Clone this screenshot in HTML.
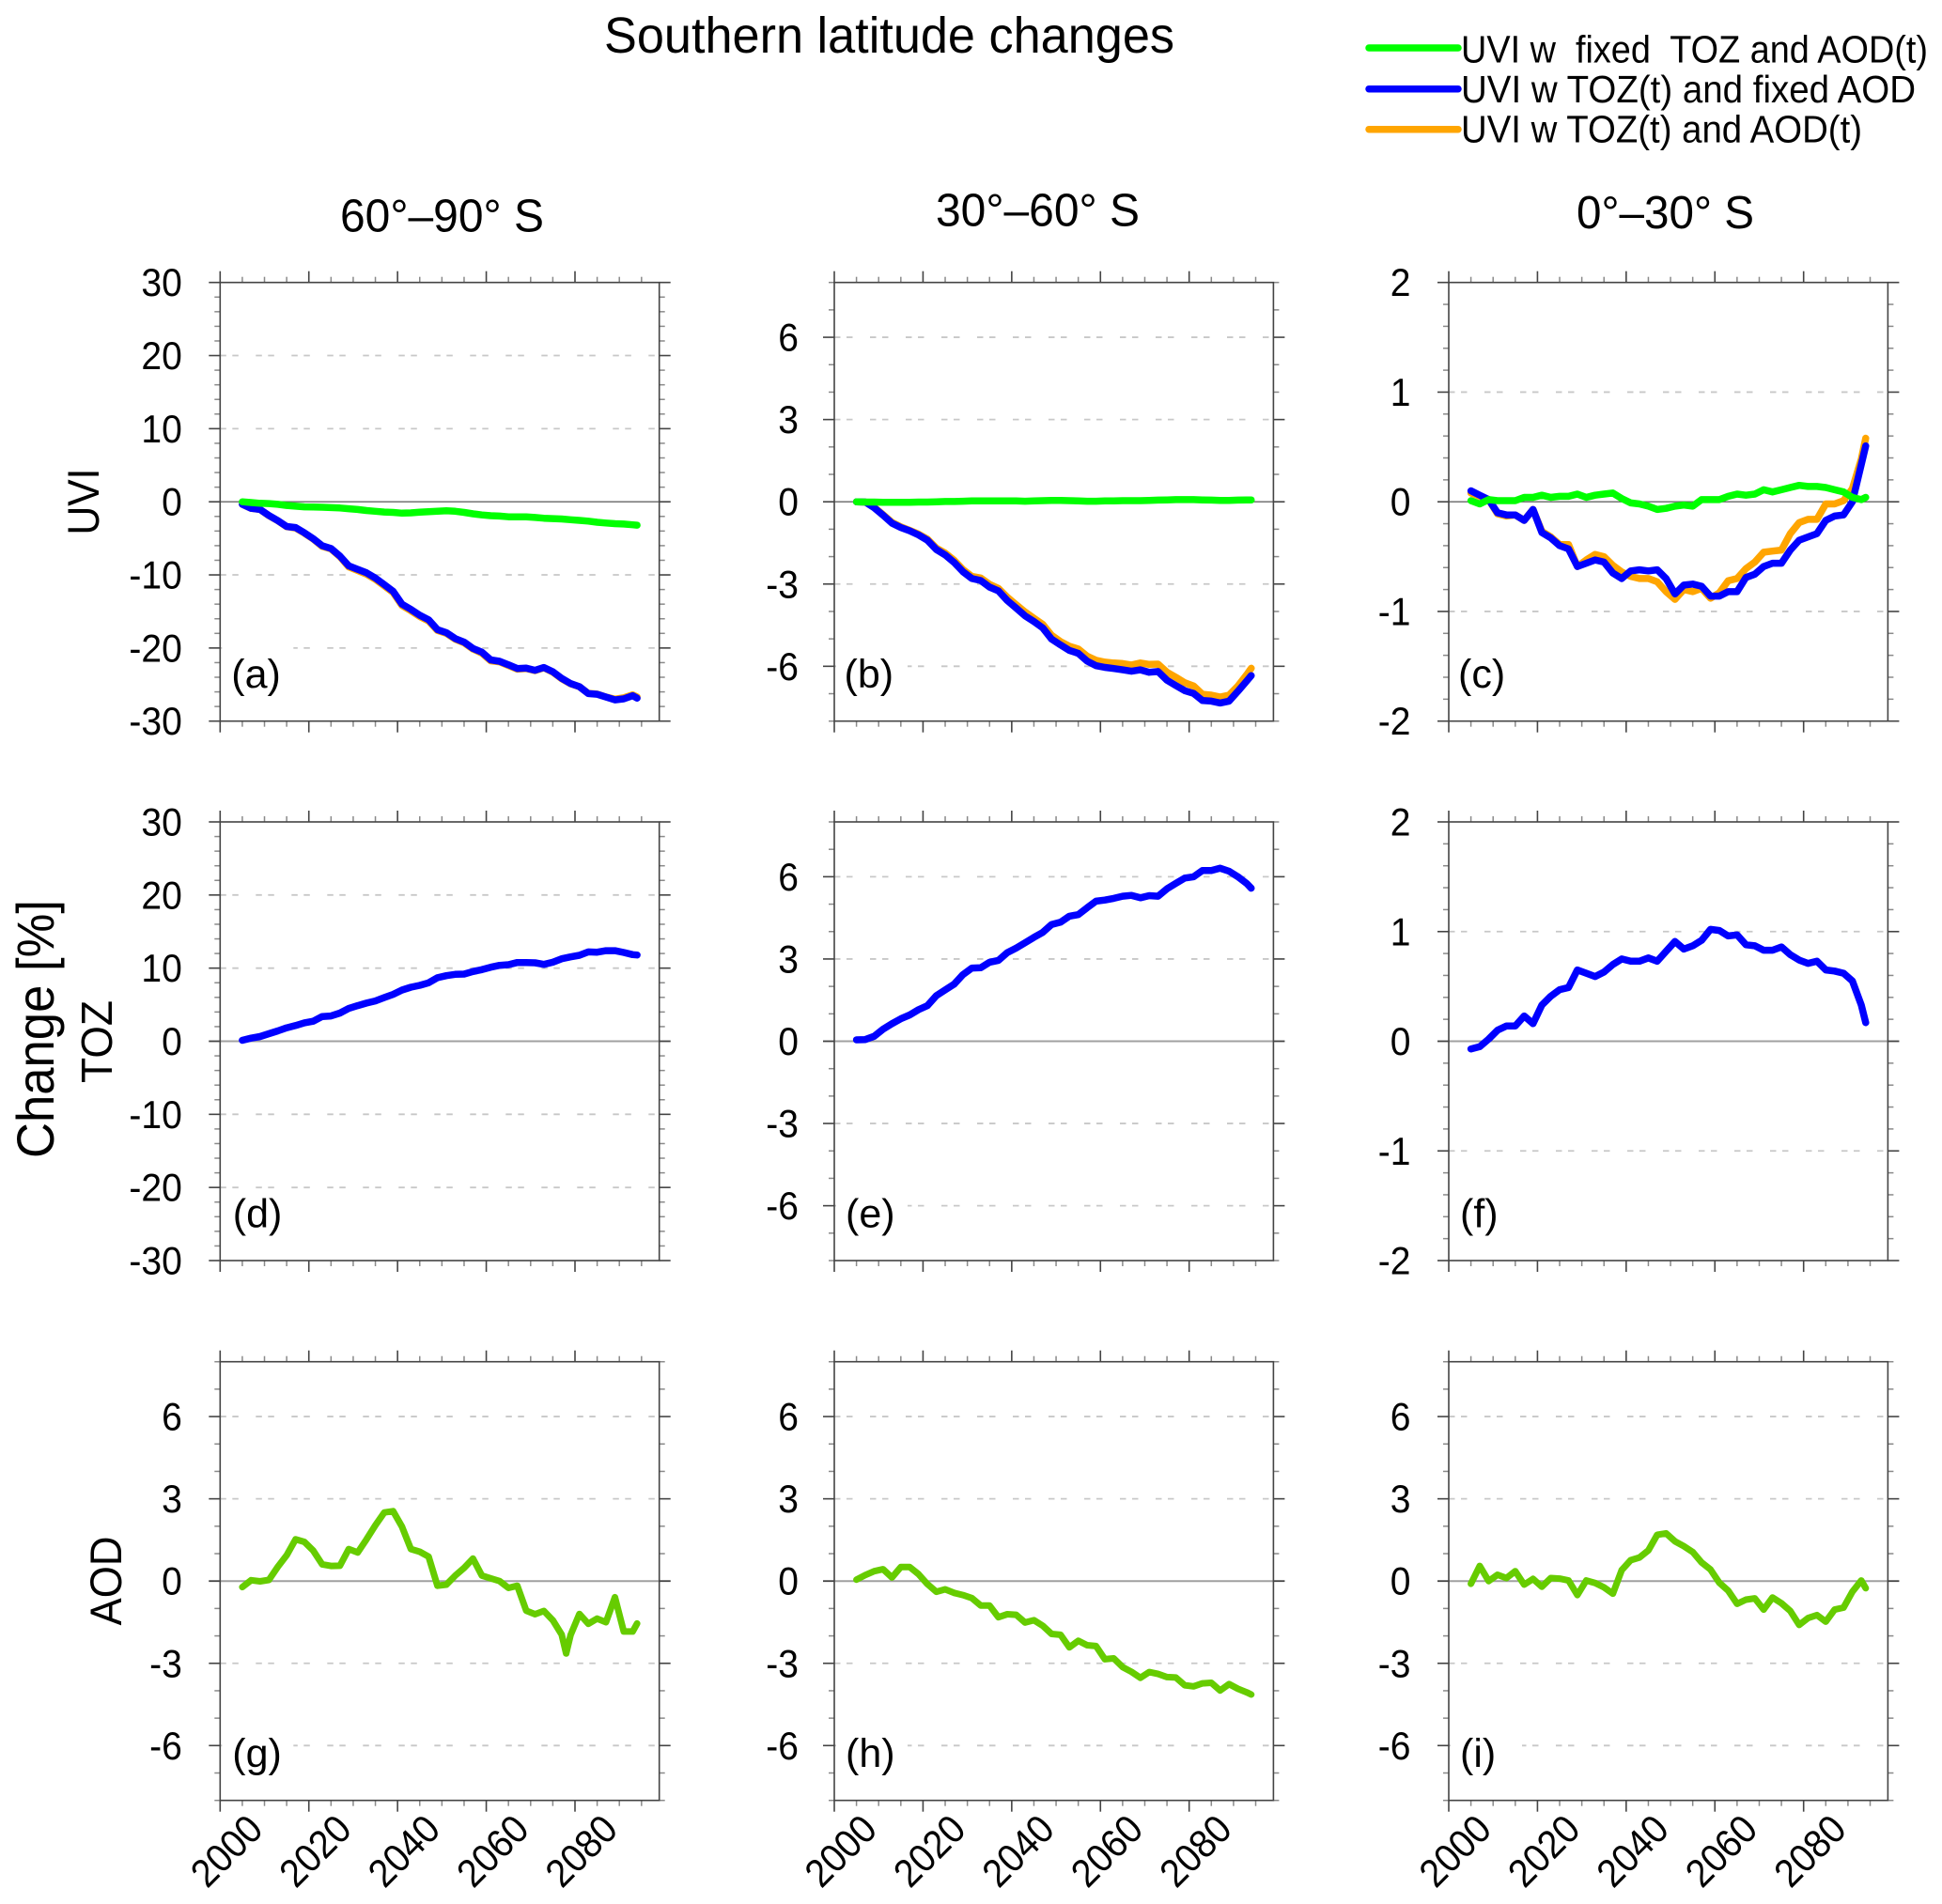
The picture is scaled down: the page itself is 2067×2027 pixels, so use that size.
<!DOCTYPE html>
<html lang="en">
<head>
<meta charset="utf-8">
<title>Southern latitude changes</title>
<style>
html,body{margin:0;padding:0;background:#fff;}
svg{display:block;}
text{font-family:"Liberation Sans",Arial,sans-serif;fill:#000;}
</style>
</head>
<body>
<svg id="chart" xmlns="http://www.w3.org/2000/svg" width="2067" height="2027" viewBox="0 0 2067 2027">
  <rect x="0" y="0" width="2067" height="2027" fill="#fff"/>
  <text x="643" y="56" font-size="54" textLength="607" lengthAdjust="spacingAndGlyphs">Southern latitude changes</text>

  <g>
    <line x1="1457" y1="51" x2="1552" y2="51" stroke="#00ff00" stroke-width="7.5" stroke-linecap="round"/>
    <text x="1555" y="66.7" font-size="41" textLength="497" lengthAdjust="spacingAndGlyphs" style="white-space:pre" xml:space="preserve">UVI w  fixed  TOZ and AOD(t)</text>
    <line x1="1457" y1="94.7" x2="1552" y2="94.7" stroke="#0000ff" stroke-width="7.5" stroke-linecap="round"/>
    <text x="1555" y="109" font-size="41" textLength="484" lengthAdjust="spacingAndGlyphs">UVI w TOZ(t) and fixed AOD</text>
    <line x1="1457" y1="137.7" x2="1552" y2="137.7" stroke="#ffa500" stroke-width="7.5" stroke-linecap="round"/>
    <text x="1555" y="151.7" font-size="41" textLength="427" lengthAdjust="spacingAndGlyphs">UVI w TOZ(t) and AOD(t)</text>
  </g>

  <text x="362" y="246.7" font-size="49" textLength="217" lengthAdjust="spacingAndGlyphs">60°–90° S</text>
  <text x="996" y="240.7" font-size="49" textLength="217" lengthAdjust="spacingAndGlyphs">30°–60° S</text>
  <text x="1678" y="243" font-size="49" textLength="189" lengthAdjust="spacingAndGlyphs">0°–30° S</text>

  <text transform="translate(105 534) rotate(-90)" text-anchor="middle" font-size="47" textLength="71" lengthAdjust="spacingAndGlyphs">UVI</text>
  <text transform="translate(119 1109) rotate(-90)" text-anchor="middle" font-size="46" textLength="88" lengthAdjust="spacingAndGlyphs">TOZ</text>
  <text transform="translate(129 1683) rotate(-90)" text-anchor="middle" font-size="47" textLength="95" lengthAdjust="spacingAndGlyphs">AOD</text>
  <text transform="translate(57 1095.5) rotate(-90)" text-anchor="middle" font-size="56" textLength="275" lengthAdjust="spacingAndGlyphs">Change [%]</text>
</svg>

<script>
// ---------- shared categories ----------
const years = [2005,2007,2009,2011,2013,2015,2017,2019,2021,2023,
  2025,2027,2029,2031,2033,2035,2037,2039,2041,2043,
  2045,2047,2049,2051,2053,2055,2057,2059,2061,2063,
  2065,2067,2069,2071,2073,2075,2077,2079,2081,2083,
  2085,2087,2089,2091,2093,2094];
const yearsPanelG = [2005,2007,2009,2011,2013,2015,2017,2019,2021,2023,
  2025,2027,2029,2031,2033,2035,2037,2039,2041,2043,
  2045,2047,2049,2051,2053,2055,2057,2059,2061,2063,
  2065,2067,2069,2071,2073,2075,2077,2078,2079,2081,2083,
  2085,2087,2089,2091,2093,2094];

// ---------- tick labels ----------
const xMajorYears = [2000,2020,2040,2060,2080];
const xMinorYears = [2005,2010,2015,2025,2030,2035,2045,2050,2055,2065,2070,2075,2085,2090,2095];
const yTicksWide = [-30,-20,-10,0,10,20,30];
const yTicksMid = [-6,-3,0,3,6];
const yTicksNarrow = [-2,-1,0,1,2];

// ---------- panel (a) UVI 60-90S ----------
const uviBlueA = [-.33,-.90,-1.05,-1.86,-2.57,-3.38,-3.52,-4.24,-5.05,-6.0,
  -6.38,-7.43,-8.76,-9.24,-9.71,-10.43,-11.33,-12.24,-14.0,-14.71,
  -15.52,-16.14,-17.48,-17.90,-18.71,-19.19,-20.05,-20.57,-21.62,-21.81,
  -22.29,-22.81,-22.76,-23.05,-22.67,-23.24,-24.14,-24.86,-25.29,-26.24,
  -26.33,-26.71,-27.10,-26.95,-26.52,-26.86];
const uviOrangeA = [-.33,-.90,-1.05,-1.9,-2.6,-3.4,-3.6,-4.3,-5.1,-6.1,
  -6.45,-7.5,-8.9,-9.4,-9.9,-10.6,-11.5,-12.4,-14.2,-14.9,
  -15.7,-16.3,-17.6,-18.0,-18.8,-19.3,-20.15,-20.7,-21.75,-21.9,
  -22.4,-22.9,-22.8,-23.1,-22.7,-23.3,-24.2,-24.9,-25.3,-26.2,
  -26.3,-26.7,-27.0,-26.8,-26.4,-26.7];
const uviGreenA = [0,-.1,-.2,-.25,-.35,-.5,-.6,-.7,-.72,-.75,
  -.8,-.85,-.95,-1.05,-1.2,-1.3,-1.4,-1.45,-1.55,-1.52,
  -1.42,-1.35,-1.28,-1.22,-1.3,-1.45,-1.65,-1.8,-1.9,-1.95,
  -2.05,-2.05,-2.05,-2.15,-2.25,-2.3,-2.35,-2.45,-2.55,-2.65,
  -2.8,-2.9,-3.0,-3.05,-3.15,-3.2];

// ---------- panel (b) UVI 30-60S ----------
const uviBlueB = [0,-.01,-.22,-.49,-.78,-.94,-1.06,-1.21,-1.40,-1.74,
  -1.94,-2.21,-2.55,-2.80,-2.87,-3.11,-3.25,-3.60,-3.88,-4.16,
  -4.37,-4.60,-5.01,-5.22,-5.42,-5.53,-5.81,-5.98,-6.04,-6.08,
  -6.13,-6.18,-6.13,-6.22,-6.19,-6.51,-6.70,-6.89,-6.99,-7.25,
  -7.27,-7.34,-7.27,-6.91,-6.53,-6.34];
const uviOrangeB = [0,-.01,-.20,-.47,-.75,-.91,-1.04,-1.18,-1.36,-1.69,
  -1.87,-2.13,-2.47,-2.72,-2.78,-3.01,-3.16,-3.48,-3.75,-4.02,
  -4.25,-4.47,-4.87,-5.10,-5.27,-5.37,-5.63,-5.78,-5.85,-5.88,
  -5.90,-5.95,-5.88,-5.93,-5.92,-6.22,-6.40,-6.60,-6.72,-7.02,
  -7.05,-7.12,-7.05,-6.72,-6.30,-6.07];
const uviGreenB = [0,-.01,-.01,-.02,-.02,-.02,-.02,-.01,-.01,0,
  .01,.01,.02,.03,.03,.03,.03,.03,.03,.02,
  .03,.04,.05,.05,.04,.03,.02,.02,.03,.03,
  .04,.04,.04,.05,.06,.07,.08,.08,.08,.07,
  .06,.05,.05,.06,.07,.07];

// ---------- panel (c) UVI 0-30S ----------
const uviBlueC = [.10,.06,.02,-.10,-.12,-.12,-.17,-.07,-.28,-.33,
  -.40,-.43,-.59,-.56,-.53,-.55,-.65,-.70,-.63,-.62,
  -.63,-.62,-.70,-.84,-.76,-.75,-.77,-.86,-.86,-.82,
  -.82,-.69,-.66,-.59,-.56,-.56,-.44,-.35,-.32,-.29,
  -.17,-.13,-.12,0,.34,.51];
const uviOrangeC = [.08,.05,.02,-.11,-.13,-.12,-.17,-.07,-.27,-.32,
  -.39,-.39,-.59,-.53,-.48,-.50,-.58,-.64,-.68,-.70,
  -.70,-.73,-.82,-.89,-.80,-.82,-.79,-.88,-.83,-.72,
  -.70,-.61,-.55,-.46,-.45,-.44,-.29,-.19,-.16,-.16,
  -.02,-.02,.01,.12,.39,.58];
const uviGreenC = [.01,-.02,.02,.01,.01,.01,.04,.04,.06,.04,
  .05,.05,.07,.04,.06,.07,.08,.03,-.01,-.02,
  -.04,-.07,-.06,-.04,-.03,-.04,.02,.02,.02,.05,
  .07,.06,.07,.11,.09,.11,.13,.15,.14,.14,
  .13,.11,.09,.04,.02,.04];

// ---------- panels (d)(e)(f) TOZ ----------
const tozD = [.13,.43,.64,1.03,1.41,1.84,2.14,2.52,2.74,3.38,
  3.46,3.85,4.49,4.87,5.21,5.51,5.98,6.41,7.0,7.39,
  7.65,7.99,8.68,8.97,9.15,9.19,9.53,9.79,10.13,10.38,
  10.47,10.77,10.77,10.73,10.51,10.81,11.28,11.54,11.75,12.22,
  12.18,12.39,12.39,12.14,11.84,11.79];
const tozE = [.05,.06,.18,.44,.64,.82,.96,1.15,1.30,1.66,
  1.87,2.08,2.43,2.67,2.68,2.88,2.95,3.23,3.40,3.59,
  3.79,3.97,4.26,4.34,4.56,4.62,4.87,5.11,5.15,5.21,
  5.29,5.32,5.23,5.31,5.29,5.56,5.76,5.95,6.00,6.23,
  6.23,6.31,6.20,6.00,5.75,5.58];
const tozF = [-.07,-.05,.02,.10,.14,.14,.23,.16,.33,.41,
  .47,.49,.65,.62,.59,.63,.70,.75,.73,.73,
  .76,.73,.82,.91,.84,.87,.92,1.02,1.01,.96,
  .97,.88,.87,.83,.83,.86,.79,.74,.71,.73,
  .65,.64,.62,.55,.33,.17];

// ---------- panels (g)(h)(i) AOD ----------
const aodG = [-.22,.03,-.01,.04,.52,.94,1.52,1.43,1.11,.61,
  .55,.56,1.17,1.04,1.52,2.03,2.50,2.55,1.98,1.17,
  1.07,.89,-.17,-.13,.20,.48,.82,.20,.10,0,
  -.25,-.17,-1.08,-1.21,-1.09,-1.43,-1.95,-2.64,-1.97,-1.20,-1.56,
  -1.37,-1.50,-.59,-1.84,-1.84,-1.55];
const aodH = [.05,.22,.36,.43,.13,.51,.51,.25,-.11,-.39,
  -.30,-.43,-.51,-.62,-.89,-.89,-1.32,-1.21,-1.23,-1.51,
  -1.43,-1.63,-1.93,-1.96,-2.42,-2.18,-2.34,-2.37,-2.85,-2.82,
  -3.14,-3.31,-3.53,-3.32,-3.39,-3.50,-3.52,-3.80,-3.84,-3.73,
  -3.71,-3.99,-3.76,-3.93,-4.06,-4.14];
const aodI = [-.10,.55,0,.23,.11,.36,-.13,.08,-.21,.11,
  .09,.02,-.51,.02,-.07,-.23,-.46,.40,.76,.86,
  1.12,1.69,1.74,1.45,1.27,1.06,.68,.42,-.06,-.35,
  -.83,-.68,-.63,-1.04,-.60,-.81,-1.09,-1.60,-1.35,-1.24,
  -1.48,-1.04,-.97,-.39,.02,-.26];

// ---------- layout ----------
const PLOT_W = 467.4, PLOT_H = 467, X_MIN = 2000, X_MAX = 2099;
const COL_LEFT = [234.3, 888, 1542];
const ROW_TOP = [300.7, 875, 1449.7];
const LABEL_GAP = [40.5, 38, 40.5];
const TICK_FONT = 42;
const BLUE = '#0000ff', GREEN = '#00ff00', ORANGE = '#ffa500', AOD = '#66cc00';

const panels = [
  {id:'a',col:0,row:0,ticks:yTicksWide,ymin:-30,ymax:30,minor:2,labelX:12,hide:-20,
   series:[{n:'uvi-both',c:ORANGE,x:years,y:uviOrangeA},{n:'uvi-fixed-aod',c:BLUE,x:years,y:uviBlueA},{n:'uvi-fixed-toz',c:GREEN,x:years,y:uviGreenA}]},
  {id:'b',col:1,row:0,ticks:yTicksMid,ymin:-8,ymax:8,minor:1,labelX:10.5,hide:-6,
   series:[{n:'uvi-both',c:ORANGE,x:years,y:uviOrangeB},{n:'uvi-fixed-aod',c:BLUE,x:years,y:uviBlueB},{n:'uvi-fixed-toz',c:GREEN,x:years,y:uviGreenB}]},
  {id:'c',col:2,row:0,ticks:yTicksNarrow,ymin:-2,ymax:2,minor:.2,labelX:10,
   series:[{n:'uvi-both',c:ORANGE,x:years,y:uviOrangeC},{n:'uvi-fixed-aod',c:BLUE,x:years,y:uviBlueC},{n:'uvi-fixed-toz',c:GREEN,x:years,y:uviGreenC}]},
  {id:'d',col:0,row:1,ticks:yTicksWide,ymin:-30,ymax:30,minor:2,labelX:13.5,
   series:[{n:'toz',c:BLUE,x:years,y:tozD}]},
  {id:'e',col:1,row:1,ticks:yTicksMid,ymin:-8,ymax:8,minor:1,labelX:12,hide:-6,
   series:[{n:'toz',c:BLUE,x:years,y:tozE}]},
  {id:'f',col:2,row:1,ticks:yTicksNarrow,ymin:-2,ymax:2,minor:.2,labelX:12,
   series:[{n:'toz',c:BLUE,x:years,y:tozF}]},
  {id:'g',col:0,row:2,ticks:yTicksMid,ymin:-8,ymax:8,minor:1,labelX:13,hide:-6,
   series:[{n:'aod',c:AOD,x:yearsPanelG,y:aodG}]},
  {id:'h',col:1,row:2,ticks:yTicksMid,ymin:-8,ymax:8,minor:1,labelX:12,hide:-6,
   series:[{n:'aod',c:AOD,x:years,y:aodH}]},
  {id:'i',col:2,row:2,ticks:yTicksMid,ymin:-8,ymax:8,minor:1,labelX:12,hide:-6,
   series:[{n:'aod',c:AOD,x:years,y:aodI}]}
];

const NS = 'http://www.w3.org/2000/svg';
const chart = document.getElementById('chart');

function make(tag, attrs, parent, text) {
  const el = document.createElementNS(NS, tag);
  for (const k in attrs) el.setAttribute(k, attrs[k]);
  if (text !== undefined) el.textContent = text;
  parent.appendChild(el);
  return el;
}

// slightly condensed width used by the tall numeric tick labels
function tickTextWidth(str) {
  let em = 0;
  for (const ch of str) em += ch === '-' ? .333 : .556;
  return (em * TICK_FONT * .93).toFixed(1);
}

function drawPanel(p) {
  const left = COL_LEFT[p.col], top = ROW_TOP[p.row];
  const right = left + PLOT_W, bottom = top + PLOT_H;
  const sx = year => left + (year - X_MIN) / (X_MAX - X_MIN) * PLOT_W;
  const sy = v => top + (p.ymax - v) / (p.ymax - p.ymin) * PLOT_H;

  const g = make('g', {}, chart);
  
  

  // gridlines and zero line
  p.ticks.forEach(v => {
    if (v === p.ymin || v === p.ymax) return;
    const line = make('line', {x1:left, x2:right, y1:sy(v), y2:sy(v),
      stroke: v === 0 ? 'none' : '#c8c8c8', 'stroke-width':1.8, 'stroke-dasharray':'6.5 6.5 6.5 18.5'}, g);
    
    
  });

  // white patch behind the panel letter
  if (p.hide !== undefined) {
    const patch = make('rect', {x:left + 2, y:sy(p.hide) - 4, width:76, height:8, fill:'#fff'}, g);
    
    
  }

  const zero = make('line', {x1:left - 12, x2:right + 12, y1:sy(0), y2:sy(0),
    stroke: p.row === 0 ? '#666' : '#a0a0a0', 'stroke-width': p.row === 0 ? 1.3 : 2}, g);
  
  

  // y minor ticks
  const count = Math.round((p.ymax - p.ymin) / p.minor);
  for (let i = 0; i <= count; i++) {
    const v = p.ymin + i * p.minor;
    if (p.ticks.some(t => Math.abs(t - v) < 1e-6)) continue;
    const l1 = make('line', {x1:left - 6, x2:left, y1:sy(v), y2:sy(v), stroke:'#8a8a8a', 'stroke-width':1.5}, g);
    
    
    const l2 = make('line', {x1:right, x2:right + 6, y1:sy(v), y2:sy(v), stroke:'#8a8a8a', 'stroke-width':1.5}, g);
    
    
  }

  // y major ticks and labels
  p.ticks.forEach(v => {
    const l1 = make('line', {x1:left - 12, x2:left, y1:sy(v), y2:sy(v), stroke:'#444', 'stroke-width':1.6}, g);
    
    
    const l2 = make('line', {x1:right, x2:right + 12, y1:sy(v), y2:sy(v), stroke:'#444', 'stroke-width':1.6}, g);
    
    
    const t = make('text', {x:left - LABEL_GAP[p.col], y:sy(v) + 14.5, 'text-anchor':'end', 'font-size':TICK_FONT,
      textLength:tickTextWidth(String(v)), lengthAdjust:'spacingAndGlyphs'}, g, String(v));
    
    
  });

  // x ticks
  xMinorYears.forEach(yr => {
    const l1 = make('line', {x1:sx(yr), x2:sx(yr), y1:top - 6, y2:top, stroke:'#8a8a8a', 'stroke-width':1.5}, g);
    
    
    const l2 = make('line', {x1:sx(yr), x2:sx(yr), y1:bottom, y2:bottom + 6, stroke:'#8a8a8a', 'stroke-width':1.5}, g);
    
    
  });
  xMajorYears.forEach(yr => {
    const l1 = make('line', {x1:sx(yr), x2:sx(yr), y1:top - 12, y2:top, stroke:'#444', 'stroke-width':1.6}, g);
    
    
    const l2 = make('line', {x1:sx(yr), x2:sx(yr), y1:bottom, y2:bottom + 12, stroke:'#444', 'stroke-width':1.6}, g);
    
    
    if (p.row === 2) {
      const t = make('text', {transform:'translate(' + (sx(yr) + 7) + ' ' + (bottom + 54) + ') rotate(-45)',
        'text-anchor':'middle', y:14, 'font-size':TICK_FONT,
        textLength:tickTextWidth(String(yr)), lengthAdjust:'spacingAndGlyphs'}, g, String(yr));
      
      
    }
  });

  // frame
  const frame = make('rect', {x:left, y:top, width:PLOT_W, height:PLOT_H, fill:'none', stroke:'#444', 'stroke-width':1.6}, g);
  
  

  // series
  p.series.forEach(s => {
    const pts = s.y.map((v, i) => sx(s.x[i]).toFixed(1) + ',' + sy(v).toFixed(1)).join(' ');
    const line = make('polyline', {points:pts, fill:'none', stroke:s.c,
      'stroke-width': s.c === AOD ? 7 : 7.5, 'stroke-linejoin':'round', 'stroke-linecap':'round'}, g);
    
    
  });

  // panel letter
  const lab = make('text', {x:left + p.labelX, y:bottom - 35.5, 'font-size':43}, g, '(' + p.id + ')');
  
  
}

panels.forEach(drawPanel);
</script>
</body>
</html>
